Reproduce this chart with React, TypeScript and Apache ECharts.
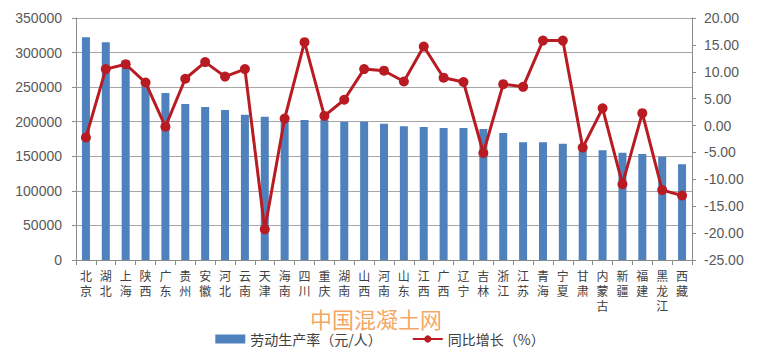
import React, { useEffect, useRef } from "react";
import * as echarts from "echarts";

const categories = ["北京","湖北","上海","陕西","广东","贵州","安徽","河北","云南","天津","海南","四川","重庆","湖南","山西","河南","山东","江西","广西","辽宁","吉林","浙江","江苏","青海","宁夏","甘肃","内蒙古","新疆","福建","黑龙江","西藏"];
const productivity = [322000,315000,289000,252000,241500,225600,221300,217000,210200,207300,203000,202500,203000,200000,200000,197100,193300,192400,191000,191000,189500,183500,170200,170200,168200,161500,158600,155200,153300,149400,138400];
const growth = [-2.2,10.5,11.4,8.0,-0.2,8.7,11.8,9.1,10.5,-19.3,1.3,15.5,1.8,4.8,10.5,10.2,8.2,14.7,8.9,8.1,-5.1,7.7,7.2,15.8,15.8,-4.1,3.2,-10.9,2.3,-12.0,-13.0];
const leftTicks = { min: 0, max: 350000, interval: 50000 };
const rightTicks = { min: -25, max: 20, interval: 5 };
const barName = "劳动生产率（元/人）";
const lineName = "同比增长（%）";
const watermark = "中国混凝土网";

export default function App() {
  const ref = useRef<HTMLDivElement>(null);
  useEffect(() => {
    if (!ref.current) return;
    const chart = echarts.init(ref.current, null, { renderer: "svg" });
    const numFont = "'Liberation Sans', Arial, sans-serif";
    const cjkFont = "'Noto Sans CJK SC', sans-serif";
    const labelBase = {
      interval: 0,
      margin: 9,
      fontSize: 12,
      color: "#404040",
      fontFamily: cjkFont,
      verticalAlign: "top",
    };
    const charAxis = (idx: number) => ({
      type: "category",
      data: categories,
      position: "bottom",
      offset: idx * 15,
      axisLine: idx === 0 ? { lineStyle: { color: "#8c8c8c" } } : { show: false },
      axisTick:
        idx === 0
          ? { show: true, length: 5, lineStyle: { color: "#8c8c8c" } }
          : { show: false },
      splitLine: { show: false },
      axisLabel: {
        ...labelBase,
        formatter: (v: string) => v.charAt(idx) || "",
      },
    });
    chart.setOption({
      animation: false,
      backgroundColor: "#ffffff",
      grid: { left: 76, right: 68, top: 18, bottom: 104 },
      legend: {
        bottom: 13,
        left: "center",
        itemWidth: 30,
        itemHeight: 9,
        itemGap: 30,
        textStyle: { fontSize: 14, color: "#404040", fontFamily: cjkFont },
        data: [
          { name: barName, icon: "rect" },
          { name: lineName },
        ],
      },
      graphic: [
        {
          type: "text",
          left: 310,
          top: 307,
          style: {
            text: watermark,
            fontSize: 22,
            fill: "rgba(242,150,70,0.85)",
            fontFamily: cjkFont,
          },
        },
      ],
      xAxis: [charAxis(0), charAxis(1), charAxis(2)],
      yAxis: [
        {
          type: "value",
          ...leftTicks,
          axisLine: { show: true, lineStyle: { color: "#8c8c8c" } },
          axisTick: { show: true, length: 4, lineStyle: { color: "#8c8c8c" } },
          axisLabel: {
            fontSize: 14,
            color: "#595959",
            fontFamily: numFont,
            margin: 14,
            formatter: (v: number) => String(v),
          },
          splitLine: { show: true, lineStyle: { color: "#a6a6a6" } },
        },
        {
          type: "value",
          ...rightTicks,
          axisLine: { show: true, lineStyle: { color: "#8c8c8c" } },
          axisTick: { show: true, length: 4, lineStyle: { color: "#8c8c8c" } },
          axisLabel: {
            fontSize: 14,
            color: "#595959",
            fontFamily: numFont,
            margin: 12,
            formatter: (v: number) => v.toFixed(2),
          },
          splitLine: { show: false },
        },
      ],
      series: [
        {
          name: barName,
          type: "bar",
          data: productivity,
          barWidth: 8,
          itemStyle: { color: "#4f81bd" },
          xAxisIndex: 0,
          yAxisIndex: 0,
        },
        {
          name: lineName,
          type: "line",
          data: growth,
          xAxisIndex: 0,
          yAxisIndex: 1,
          symbol: "circle",
          symbolSize: 10,
          lineStyle: { width: 3, color: "#b81c22" },
          itemStyle: { color: "#b81c22" },
        },
      ],
    });
    return () => chart.dispose();
  }, []);
  return (
    <div
      ref={ref}
      style={{ position: "fixed", left: 0, top: 0, width: 760, height: 364 }}
    />
  );
}
